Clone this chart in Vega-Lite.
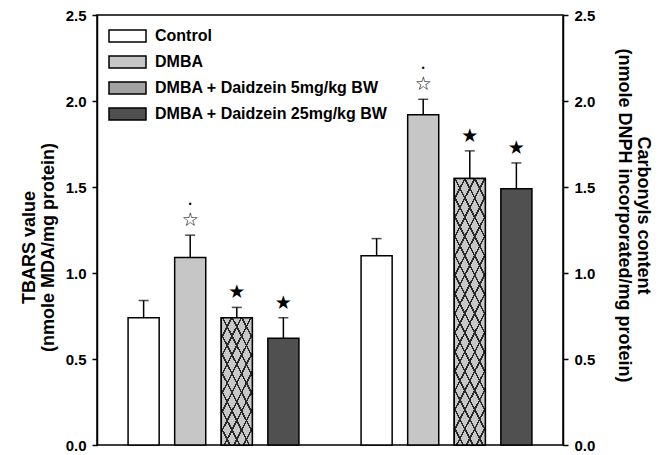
{
  "$schema": "https://vega.github.io/schema/vega-lite/v6.json",
  "width": 466,
  "height": 430,
  "autosize": "none",
  "padding": {"left": 97, "top": 15, "right": 101, "bottom": 10},
  "background": "white",
  "config": {
    "view": {"stroke": "black", "strokeWidth": 1.5},
    "font": "Liberation Sans",
    "axis": {
      "domainColor": "black", "domainWidth": 1.5, "tickColor": "black", "tickWidth": 1.5, "tickSize": 5,
      "labelFont": "Liberation Sans Narrow, Liberation Sans", "labelFontWeight": "bold", "labelFontSize": 15, "labelColor": "black",
      "titleFont": "Liberation Sans", "titleFontWeight": "bold", "titleFontSize": 18, "titleColor": "black", "titleLineHeight": 19,
      "grid": false
    }
  },
  "data": {
    "values": [
      {"group": "TBARS", "treatment": "Control", "mean": 0.74, "upper": 0.84, "sig": ""},
      {"group": "TBARS", "treatment": "DMBA", "mean": 1.09, "upper": 1.22, "sig": "☆"},
      {"group": "TBARS", "treatment": "DMBA + Daidzein 5mg/kg BW", "mean": 0.74, "upper": 0.80, "sig": "★"},
      {"group": "TBARS", "treatment": "DMBA + Daidzein 25mg/kg BW", "mean": 0.62, "upper": 0.74, "sig": "★"},
      {"group": "Carbonyls", "treatment": "Control", "mean": 1.10, "upper": 1.20, "sig": ""},
      {"group": "Carbonyls", "treatment": "DMBA", "mean": 1.92, "upper": 2.01, "sig": "☆"},
      {"group": "Carbonyls", "treatment": "DMBA + Daidzein 5mg/kg BW", "mean": 1.55, "upper": 1.71, "sig": "★"},
      {"group": "Carbonyls", "treatment": "DMBA + Daidzein 25mg/kg BW", "mean": 1.49, "upper": 1.64, "sig": "★"}
    ]
  },
  "encoding": {
    "x": {"field": "group", "type": "nominal", "sort": ["TBARS", "Carbonyls"], "axis": null,
          "scale": {"paddingInner": 0.2, "paddingOuter": 0.1}},
    "xOffset": {"field": "treatment", "type": "nominal",
                "sort": ["Control", "DMBA", "DMBA + Daidzein 5mg/kg BW", "DMBA + Daidzein 25mg/kg BW"],
                "scale": {"paddingInner": 0.333, "paddingOuter": 0.167}}
  },
  "layer": [
    {
      "encoding": {
        "y": {"type": "quantitative", "scale": {"domain": [0, 2.5], "nice": false},
              "axis": {"orient": "left", "values": [0, 0.5, 1, 1.5, 2, 2.5], "format": ".1f", "labelPadding": 6,
                       "title": ["TBARS value", "(nmole MDA/mg protein)"], "titlePadding": 8, "titleY": 232}}
      },
      "layer": [
        {
          "mark": {"type": "rule", "color": "black", "strokeWidth": 1.5},
          "encoding": {"y": {"field": "mean"}, "y2": {"field": "upper"}}
        },
        {
          "mark": {"type": "tick", "color": "black", "thickness": 1.5, "orient": "horizontal"},
          "encoding": {"y": {"field": "upper"}, "size": {"value": 10}}
        },
        {
          "mark": {"type": "bar", "stroke": "black", "strokeWidth": 1.5},
          "encoding": {
            "y": {"field": "mean"},
            "fill": {"field": "treatment", "type": "nominal",
                     "sort": ["Control", "DMBA", "DMBA + Daidzein 5mg/kg BW", "DMBA + Daidzein 25mg/kg BW"],
                     "scale": {"domain": ["Control", "DMBA", "DMBA + Daidzein 5mg/kg BW", "DMBA + Daidzein 25mg/kg BW"],
                               "range": ["#ffffff", "#c6c6c6", "#a2a2a2", "#505050"]},
                     "legend": {"title": null, "orient": "none", "legendX": 19.5, "legendY": 10, "padding": 0,
                                "symbolType": "M-1.85,-0.6H1.85V0.6H-1.85Z", "symbolSize": 400,
                                "symbolStrokeColor": "black", "symbolStrokeWidth": 1.5, "symbolOpacity": 1,
                                "labelOffset": 16.5, "labelFontSize": 16, "labelFontWeight": "bold", "labelFont": "Liberation Sans",
                                "labelColor": "black", "rowPadding": 6, "labelLimit": 400}}
          }
        },
        {
          "transform": [{"filter": "datum.treatment == 'DMBA + Daidzein 5mg/kg BW'"}],
          "mark": {"type": "bar", "fill": "#c8c8c8", "strokeWidth": 0},
          "encoding": {"y": {"field": "mean"}}
        },
        {
          "transform": [{"filter": "datum.treatment == 'DMBA + Daidzein 5mg/kg BW'"}],
          "mark": {"type": "bar", "strokeWidth": 0},
          "encoding": {
            "y": {"field": "mean"},
            "fill": {
              "condition": {"test": "datum.group == 'TBARS'", "value": {"gradient": "linear", "x1": 0, "y1": 0, "x2": 0.573, "y2": 1.203, "stops": [
                {"offset": 0, "color": "#2a2a2a"}, {"offset": 0.018, "color": "#2a2a2a"}, {"offset": 0.018, "color": "rgba(0,0,0,0)"}, {"offset": 0.1, "color": "rgba(0,0,0,0)"},
                {"offset": 0.1, "color": "#2a2a2a"}, {"offset": 0.118, "color": "#2a2a2a"}, {"offset": 0.118, "color": "rgba(0,0,0,0)"}, {"offset": 0.2, "color": "rgba(0,0,0,0)"},
                {"offset": 0.2, "color": "#2a2a2a"}, {"offset": 0.218, "color": "#2a2a2a"}, {"offset": 0.218, "color": "rgba(0,0,0,0)"}, {"offset": 0.3, "color": "rgba(0,0,0,0)"},
                {"offset": 0.3, "color": "#2a2a2a"}, {"offset": 0.318, "color": "#2a2a2a"}, {"offset": 0.318, "color": "rgba(0,0,0,0)"}, {"offset": 0.4, "color": "rgba(0,0,0,0)"},
                {"offset": 0.4, "color": "#2a2a2a"}, {"offset": 0.418, "color": "#2a2a2a"}, {"offset": 0.418, "color": "rgba(0,0,0,0)"}, {"offset": 0.5, "color": "rgba(0,0,0,0)"},
                {"offset": 0.5, "color": "#2a2a2a"}, {"offset": 0.518, "color": "#2a2a2a"}, {"offset": 0.518, "color": "rgba(0,0,0,0)"}, {"offset": 0.6, "color": "rgba(0,0,0,0)"},
                {"offset": 0.6, "color": "#2a2a2a"}, {"offset": 0.618, "color": "#2a2a2a"}, {"offset": 0.618, "color": "rgba(0,0,0,0)"}, {"offset": 0.7, "color": "rgba(0,0,0,0)"},
                {"offset": 0.7, "color": "#2a2a2a"}, {"offset": 0.718, "color": "#2a2a2a"}, {"offset": 0.718, "color": "rgba(0,0,0,0)"}, {"offset": 0.8, "color": "rgba(0,0,0,0)"},
                {"offset": 0.8, "color": "#2a2a2a"}, {"offset": 0.818, "color": "#2a2a2a"}, {"offset": 0.818, "color": "rgba(0,0,0,0)"}, {"offset": 0.9, "color": "rgba(0,0,0,0)"},
                {"offset": 0.9, "color": "#2a2a2a"}, {"offset": 0.918, "color": "#2a2a2a"}, {"offset": 0.918, "color": "rgba(0,0,0,0)"}, {"offset": 1, "color": "rgba(0,0,0,0)"}
              ]}},
              "value": {"gradient": "linear", "x1": 0, "y1": 0, "x2": 0.265, "y2": 1.167, "stops": [
                {"offset": 0, "color": "#2a2a2a"}, {"offset": 0.0106, "color": "#2a2a2a"}, {"offset": 0.0106, "color": "rgba(0,0,0,0)"}, {"offset": 0.0588, "color": "rgba(0,0,0,0)"},
                {"offset": 0.0588, "color": "#2a2a2a"}, {"offset": 0.0694, "color": "#2a2a2a"}, {"offset": 0.0694, "color": "rgba(0,0,0,0)"}, {"offset": 0.1176, "color": "rgba(0,0,0,0)"},
                {"offset": 0.1176, "color": "#2a2a2a"}, {"offset": 0.1282, "color": "#2a2a2a"}, {"offset": 0.1282, "color": "rgba(0,0,0,0)"}, {"offset": 0.1765, "color": "rgba(0,0,0,0)"},
                {"offset": 0.1765, "color": "#2a2a2a"}, {"offset": 0.1871, "color": "#2a2a2a"}, {"offset": 0.1871, "color": "rgba(0,0,0,0)"}, {"offset": 0.2353, "color": "rgba(0,0,0,0)"},
                {"offset": 0.2353, "color": "#2a2a2a"}, {"offset": 0.2459, "color": "#2a2a2a"}, {"offset": 0.2459, "color": "rgba(0,0,0,0)"}, {"offset": 0.2941, "color": "rgba(0,0,0,0)"},
                {"offset": 0.2941, "color": "#2a2a2a"}, {"offset": 0.3047, "color": "#2a2a2a"}, {"offset": 0.3047, "color": "rgba(0,0,0,0)"}, {"offset": 0.3529, "color": "rgba(0,0,0,0)"},
                {"offset": 0.3529, "color": "#2a2a2a"}, {"offset": 0.3635, "color": "#2a2a2a"}, {"offset": 0.3635, "color": "rgba(0,0,0,0)"}, {"offset": 0.4118, "color": "rgba(0,0,0,0)"},
                {"offset": 0.4118, "color": "#2a2a2a"}, {"offset": 0.4224, "color": "#2a2a2a"}, {"offset": 0.4224, "color": "rgba(0,0,0,0)"}, {"offset": 0.4706, "color": "rgba(0,0,0,0)"},
                {"offset": 0.4706, "color": "#2a2a2a"}, {"offset": 0.4812, "color": "#2a2a2a"}, {"offset": 0.4812, "color": "rgba(0,0,0,0)"}, {"offset": 0.5294, "color": "rgba(0,0,0,0)"},
                {"offset": 0.5294, "color": "#2a2a2a"}, {"offset": 0.54, "color": "#2a2a2a"}, {"offset": 0.54, "color": "rgba(0,0,0,0)"}, {"offset": 0.5882, "color": "rgba(0,0,0,0)"},
                {"offset": 0.5882, "color": "#2a2a2a"}, {"offset": 0.5988, "color": "#2a2a2a"}, {"offset": 0.5988, "color": "rgba(0,0,0,0)"}, {"offset": 0.6471, "color": "rgba(0,0,0,0)"},
                {"offset": 0.6471, "color": "#2a2a2a"}, {"offset": 0.6577, "color": "#2a2a2a"}, {"offset": 0.6577, "color": "rgba(0,0,0,0)"}, {"offset": 0.7059, "color": "rgba(0,0,0,0)"},
                {"offset": 0.7059, "color": "#2a2a2a"}, {"offset": 0.7165, "color": "#2a2a2a"}, {"offset": 0.7165, "color": "rgba(0,0,0,0)"}, {"offset": 0.7647, "color": "rgba(0,0,0,0)"},
                {"offset": 0.7647, "color": "#2a2a2a"}, {"offset": 0.7753, "color": "#2a2a2a"}, {"offset": 0.7753, "color": "rgba(0,0,0,0)"}, {"offset": 0.8235, "color": "rgba(0,0,0,0)"},
                {"offset": 0.8235, "color": "#2a2a2a"}, {"offset": 0.8341, "color": "#2a2a2a"}, {"offset": 0.8341, "color": "rgba(0,0,0,0)"}, {"offset": 0.8824, "color": "rgba(0,0,0,0)"},
                {"offset": 0.8824, "color": "#2a2a2a"}, {"offset": 0.893, "color": "#2a2a2a"}, {"offset": 0.893, "color": "rgba(0,0,0,0)"}, {"offset": 0.9412, "color": "rgba(0,0,0,0)"},
                {"offset": 0.9412, "color": "#2a2a2a"}, {"offset": 0.9518, "color": "#2a2a2a"}, {"offset": 0.9518, "color": "rgba(0,0,0,0)"}, {"offset": 1, "color": "rgba(0,0,0,0)"}
              ]}
            }
          }
        },
        {
          "transform": [{"filter": "datum.treatment == 'DMBA + Daidzein 5mg/kg BW'"}],
          "mark": {"type": "bar", "strokeWidth": 0},
          "encoding": {
            "y": {"field": "mean"},
            "fill": {
              "condition": {"test": "datum.group == 'TBARS'", "value": {"gradient": "linear", "x1": 1, "y1": 0, "x2": 0.427, "y2": 1.203, "stops": [
                {"offset": 0, "color": "#2a2a2a"}, {"offset": 0.018, "color": "#2a2a2a"}, {"offset": 0.018, "color": "rgba(0,0,0,0)"}, {"offset": 0.1, "color": "rgba(0,0,0,0)"},
                {"offset": 0.1, "color": "#2a2a2a"}, {"offset": 0.118, "color": "#2a2a2a"}, {"offset": 0.118, "color": "rgba(0,0,0,0)"}, {"offset": 0.2, "color": "rgba(0,0,0,0)"},
                {"offset": 0.2, "color": "#2a2a2a"}, {"offset": 0.218, "color": "#2a2a2a"}, {"offset": 0.218, "color": "rgba(0,0,0,0)"}, {"offset": 0.3, "color": "rgba(0,0,0,0)"},
                {"offset": 0.3, "color": "#2a2a2a"}, {"offset": 0.318, "color": "#2a2a2a"}, {"offset": 0.318, "color": "rgba(0,0,0,0)"}, {"offset": 0.4, "color": "rgba(0,0,0,0)"},
                {"offset": 0.4, "color": "#2a2a2a"}, {"offset": 0.418, "color": "#2a2a2a"}, {"offset": 0.418, "color": "rgba(0,0,0,0)"}, {"offset": 0.5, "color": "rgba(0,0,0,0)"},
                {"offset": 0.5, "color": "#2a2a2a"}, {"offset": 0.518, "color": "#2a2a2a"}, {"offset": 0.518, "color": "rgba(0,0,0,0)"}, {"offset": 0.6, "color": "rgba(0,0,0,0)"},
                {"offset": 0.6, "color": "#2a2a2a"}, {"offset": 0.618, "color": "#2a2a2a"}, {"offset": 0.618, "color": "rgba(0,0,0,0)"}, {"offset": 0.7, "color": "rgba(0,0,0,0)"},
                {"offset": 0.7, "color": "#2a2a2a"}, {"offset": 0.718, "color": "#2a2a2a"}, {"offset": 0.718, "color": "rgba(0,0,0,0)"}, {"offset": 0.8, "color": "rgba(0,0,0,0)"},
                {"offset": 0.8, "color": "#2a2a2a"}, {"offset": 0.818, "color": "#2a2a2a"}, {"offset": 0.818, "color": "rgba(0,0,0,0)"}, {"offset": 0.9, "color": "rgba(0,0,0,0)"},
                {"offset": 0.9, "color": "#2a2a2a"}, {"offset": 0.918, "color": "#2a2a2a"}, {"offset": 0.918, "color": "rgba(0,0,0,0)"}, {"offset": 1, "color": "rgba(0,0,0,0)"}
              ]}},
              "value": {"gradient": "linear", "x1": 1, "y1": 0, "x2": 0.735, "y2": 1.167, "stops": [
                {"offset": 0, "color": "#2a2a2a"}, {"offset": 0.0106, "color": "#2a2a2a"}, {"offset": 0.0106, "color": "rgba(0,0,0,0)"}, {"offset": 0.0588, "color": "rgba(0,0,0,0)"},
                {"offset": 0.0588, "color": "#2a2a2a"}, {"offset": 0.0694, "color": "#2a2a2a"}, {"offset": 0.0694, "color": "rgba(0,0,0,0)"}, {"offset": 0.1176, "color": "rgba(0,0,0,0)"},
                {"offset": 0.1176, "color": "#2a2a2a"}, {"offset": 0.1282, "color": "#2a2a2a"}, {"offset": 0.1282, "color": "rgba(0,0,0,0)"}, {"offset": 0.1765, "color": "rgba(0,0,0,0)"},
                {"offset": 0.1765, "color": "#2a2a2a"}, {"offset": 0.1871, "color": "#2a2a2a"}, {"offset": 0.1871, "color": "rgba(0,0,0,0)"}, {"offset": 0.2353, "color": "rgba(0,0,0,0)"},
                {"offset": 0.2353, "color": "#2a2a2a"}, {"offset": 0.2459, "color": "#2a2a2a"}, {"offset": 0.2459, "color": "rgba(0,0,0,0)"}, {"offset": 0.2941, "color": "rgba(0,0,0,0)"},
                {"offset": 0.2941, "color": "#2a2a2a"}, {"offset": 0.3047, "color": "#2a2a2a"}, {"offset": 0.3047, "color": "rgba(0,0,0,0)"}, {"offset": 0.3529, "color": "rgba(0,0,0,0)"},
                {"offset": 0.3529, "color": "#2a2a2a"}, {"offset": 0.3635, "color": "#2a2a2a"}, {"offset": 0.3635, "color": "rgba(0,0,0,0)"}, {"offset": 0.4118, "color": "rgba(0,0,0,0)"},
                {"offset": 0.4118, "color": "#2a2a2a"}, {"offset": 0.4224, "color": "#2a2a2a"}, {"offset": 0.4224, "color": "rgba(0,0,0,0)"}, {"offset": 0.4706, "color": "rgba(0,0,0,0)"},
                {"offset": 0.4706, "color": "#2a2a2a"}, {"offset": 0.4812, "color": "#2a2a2a"}, {"offset": 0.4812, "color": "rgba(0,0,0,0)"}, {"offset": 0.5294, "color": "rgba(0,0,0,0)"},
                {"offset": 0.5294, "color": "#2a2a2a"}, {"offset": 0.54, "color": "#2a2a2a"}, {"offset": 0.54, "color": "rgba(0,0,0,0)"}, {"offset": 0.5882, "color": "rgba(0,0,0,0)"},
                {"offset": 0.5882, "color": "#2a2a2a"}, {"offset": 0.5988, "color": "#2a2a2a"}, {"offset": 0.5988, "color": "rgba(0,0,0,0)"}, {"offset": 0.6471, "color": "rgba(0,0,0,0)"},
                {"offset": 0.6471, "color": "#2a2a2a"}, {"offset": 0.6577, "color": "#2a2a2a"}, {"offset": 0.6577, "color": "rgba(0,0,0,0)"}, {"offset": 0.7059, "color": "rgba(0,0,0,0)"},
                {"offset": 0.7059, "color": "#2a2a2a"}, {"offset": 0.7165, "color": "#2a2a2a"}, {"offset": 0.7165, "color": "rgba(0,0,0,0)"}, {"offset": 0.7647, "color": "rgba(0,0,0,0)"},
                {"offset": 0.7647, "color": "#2a2a2a"}, {"offset": 0.7753, "color": "#2a2a2a"}, {"offset": 0.7753, "color": "rgba(0,0,0,0)"}, {"offset": 0.8235, "color": "rgba(0,0,0,0)"},
                {"offset": 0.8235, "color": "#2a2a2a"}, {"offset": 0.8341, "color": "#2a2a2a"}, {"offset": 0.8341, "color": "rgba(0,0,0,0)"}, {"offset": 0.8824, "color": "rgba(0,0,0,0)"},
                {"offset": 0.8824, "color": "#2a2a2a"}, {"offset": 0.893, "color": "#2a2a2a"}, {"offset": 0.893, "color": "rgba(0,0,0,0)"}, {"offset": 0.9412, "color": "rgba(0,0,0,0)"},
                {"offset": 0.9412, "color": "#2a2a2a"}, {"offset": 0.9518, "color": "#2a2a2a"}, {"offset": 0.9518, "color": "rgba(0,0,0,0)"}, {"offset": 1, "color": "rgba(0,0,0,0)"}
              ]}
            }
          }
        },
        {
          "transform": [{"filter": "datum.treatment == 'DMBA + Daidzein 5mg/kg BW'"}],
          "mark": {"type": "bar", "fillOpacity": 0, "stroke": "black", "strokeWidth": 1.5},
          "encoding": {"y": {"field": "mean"}}
        }
      ]
    },
    {
      "encoding": {
        "y": {"field": "upper", "type": "quantitative", "scale": {"domain": [0, 2.5], "nice": false},
              "axis": {"orient": "right", "values": [0, 0.5, 1, 1.5, 2, 2.5], "format": ".1f", "labelPadding": 6,
                       "title": ["Carbonyls content", "(nmole DNPH incorporated/mg protein)"], "titleAngle": 90, "titlePadding": 20, "titleY": 200}}
      },
      "layer": [
        {
          "mark": {"type": "text", "font": "DejaVu Sans", "fontSize": 19, "dy": -15, "color": "black", "baseline": "middle"},
          "encoding": {"text": {"field": "sig"}}
        },
        {
          "transform": [{"filter": "datum.sig == '☆'"}],
          "mark": {"type": "text", "font": "DejaVu Sans", "fontSize": 8, "dy": -30, "color": "black", "baseline": "middle", "text": "•"},
          "encoding": {}
        }
      ]
    }
  ],
  "resolve": {"scale": {"y": "independent"}}
}
